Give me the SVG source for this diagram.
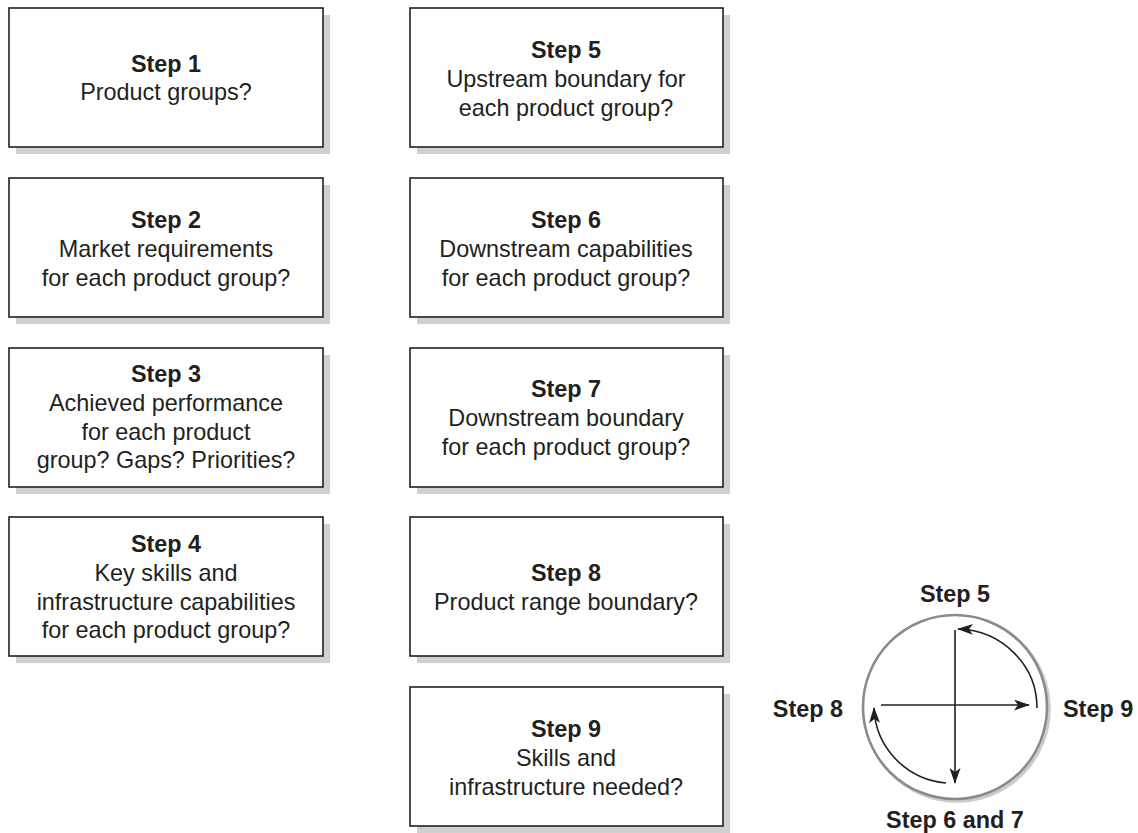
<svg xmlns="http://www.w3.org/2000/svg" width="1138" height="833" viewBox="0 0 1138 833">
  <style>
    .shadow { fill: #d0d0d0; stroke: none; }
    .box { fill: #ffffff; stroke: #231f20; stroke-width: 1.6; }
    .t { font-family: "Liberation Sans", Arial, Helvetica, sans-serif; font-size: 23.4px; fill: #231f20; text-anchor: middle; }
    .b { font-weight: bold; }
    .line { fill: none; stroke: #231f20; stroke-width: 1.6; }
  </style>
  <defs>
    <marker id="arrow" viewBox="0 0 16 11" refX="15" refY="5.5" markerWidth="16" markerHeight="11" markerUnits="userSpaceOnUse" orient="auto">
      <path d="M0,0 L16,5.5 L0,11 L4,5.5 z" fill="#231f20"/>
    </marker>
  </defs>
  <rect width="1138" height="833" fill="#ffffff"/>

  <!-- left column -->
  <g id="step1">
    <rect class="shadow" x="16" y="15" width="314" height="139"/>
    <rect class="box" x="9" y="8" width="314" height="139"/>
    <text class="t b" x="166" y="72">Step 1</text>
    <text class="t" x="166" y="100">Product groups?</text>
  </g>
  <g id="step2">
    <rect class="shadow" x="16" y="185" width="314" height="139"/>
    <rect class="box" x="9" y="178" width="314" height="139"/>
    <text class="t b" x="166" y="228">Step 2</text>
    <text class="t" x="166" y="257">Market requirements</text>
    <text class="t" x="166" y="286">for each product group?</text>
  </g>
  <g id="step3">
    <rect class="shadow" x="16" y="355" width="314" height="139"/>
    <rect class="box" x="9" y="348" width="314" height="139"/>
    <text class="t b" x="166" y="382">Step 3</text>
    <text class="t" x="166" y="411">Achieved performance</text>
    <text class="t" x="166" y="440">for each product</text>
    <text class="t" x="166" y="468">group? Gaps? Priorities?</text>
  </g>
  <g id="step4">
    <rect class="shadow" x="16" y="524" width="314" height="139"/>
    <rect class="box" x="9" y="517" width="314" height="139"/>
    <text class="t b" x="166" y="552">Step 4</text>
    <text class="t" x="166" y="581">Key skills and</text>
    <text class="t" x="166" y="610">infrastructure capabilities</text>
    <text class="t" x="166" y="638">for each product group?</text>
  </g>

  <!-- right column -->
  <g id="step5">
    <rect class="shadow" x="417" y="15" width="313" height="139"/>
    <rect class="box" x="410" y="8" width="313" height="139"/>
    <text class="t b" x="566" y="58">Step 5</text>
    <text class="t" x="566" y="87">Upstream boundary for</text>
    <text class="t" x="566" y="116">each product group?</text>
  </g>
  <g id="step6">
    <rect class="shadow" x="417" y="185" width="313" height="139"/>
    <rect class="box" x="410" y="178" width="313" height="139"/>
    <text class="t b" x="566" y="228">Step 6</text>
    <text class="t" x="566" y="257">Downstream capabilities</text>
    <text class="t" x="566" y="286">for each product group?</text>
  </g>
  <g id="step7">
    <rect class="shadow" x="417" y="355" width="313" height="139"/>
    <rect class="box" x="410" y="348" width="313" height="139"/>
    <text class="t b" x="566" y="397">Step 7</text>
    <text class="t" x="566" y="426">Downstream boundary</text>
    <text class="t" x="566" y="455">for each product group?</text>
  </g>
  <g id="step8">
    <rect class="shadow" x="417" y="524" width="313" height="139"/>
    <rect class="box" x="410" y="517" width="313" height="139"/>
    <text class="t b" x="566" y="581">Step 8</text>
    <text class="t" x="566" y="610">Product range boundary?</text>
  </g>
  <g id="step9">
    <rect class="shadow" x="417" y="694" width="313" height="139"/>
    <rect class="box" x="410" y="687" width="313" height="139"/>
    <text class="t b" x="566" y="737">Step 9</text>
    <text class="t" x="566" y="766">Skills and</text>
    <text class="t" x="566" y="795">infrastructure needed?</text>
  </g>

  <!-- cycle wheel -->
  <g id="cycle">
    <circle cx="957" cy="709" r="92" fill="none" stroke="#cccccc" stroke-width="3.5"/>
    <circle cx="955" cy="707" r="92" fill="#ffffff" stroke="#8a8a8a" stroke-width="2.6"/>
    <text class="t b" x="955" y="602">Step 5</text>
    <text class="t b" x="1063" y="717" style="text-anchor:start">Step 9</text>
    <text class="t b" x="843" y="717" style="text-anchor:end">Step 8</text>
    <text class="t b" x="955" y="828">Step 6 and 7</text>
  </g>

  <g id="connectors">
    <line class="line" x1="955" y1="630" x2="955" y2="783" marker-end="url(#arrow)"/>
    <line class="line" x1="881" y1="705" x2="1029" y2="705" marker-end="url(#arrow)"/>
    <path class="line" d="M1037,708 A81,79 0 0 0 958,629" marker-end="url(#arrow)"/>
    <path class="line" d="M946,783 A79,78 0 0 1 874,708" marker-end="url(#arrow)"/>
  </g>
</svg>
